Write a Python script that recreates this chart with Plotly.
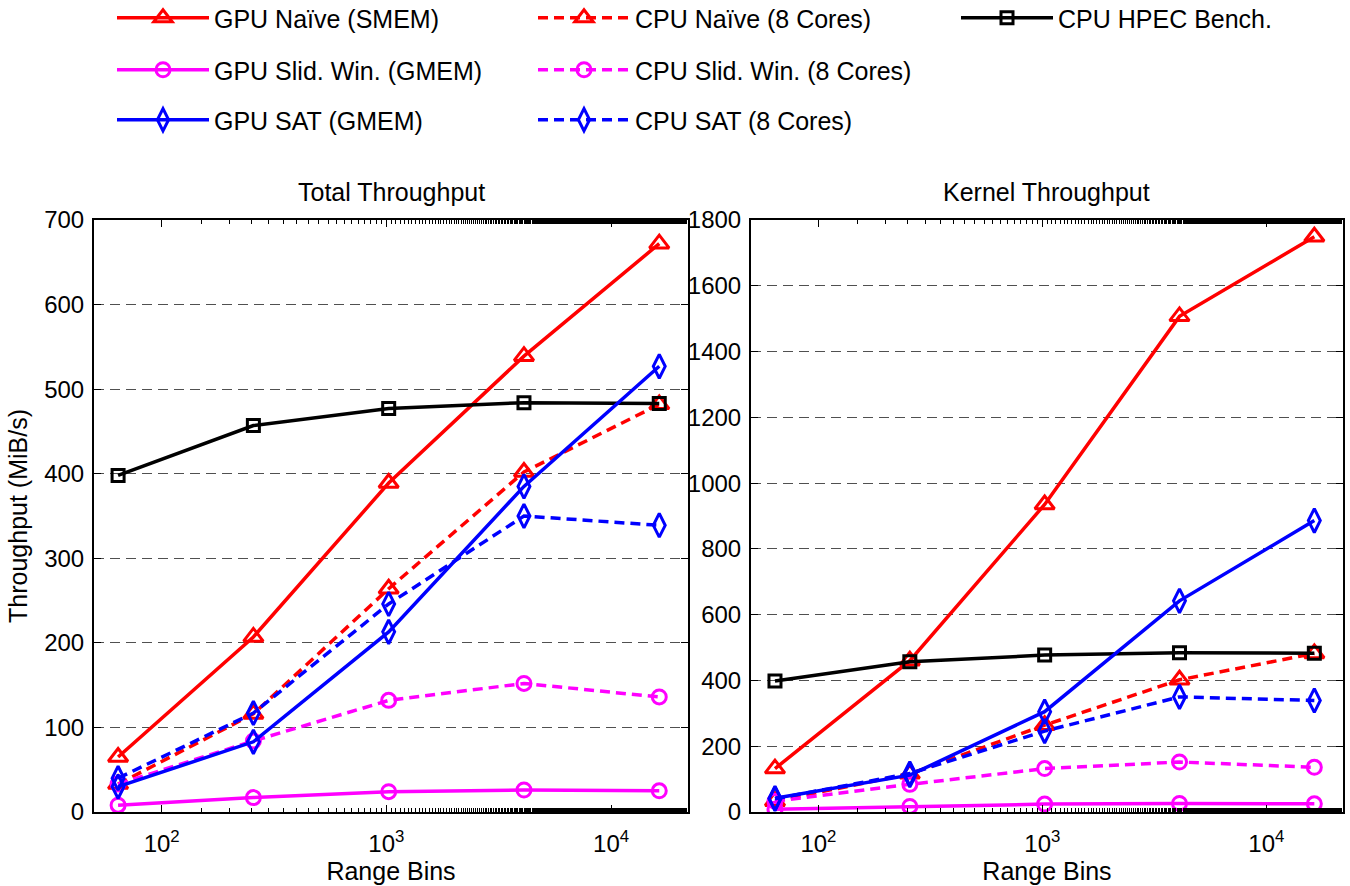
import plotly.graph_objects as go
import math

range_bins = [64, 256, 1024, 4096, 16384]

# Total throughput (MiB/s)
total_gpu_naive = [65, 207, 389, 539, 672]
total_gpu_slid = [8, 17, 24, 26, 25]
total_gpu_sat = [30, 83, 213, 385, 527]

# Kernel throughput (MiB/s)
kernel_gpu_naive = [132, 460, 935, 1507, 1749]
kernel_gpu_slid = [8, 17, 24, 26, 25]
kernel_gpu_sat = [42, 112, 305, 642, 886]

# CPU (same in both panels)
cpu_naive = [33, 116, 264, 402, 482]
cpu_slid = [33, 84, 132, 152, 136]
cpu_sat = [40, 117, 246, 350, 339]
cpu_hpec = [398, 457, 477, 484, 483]

x_tick_vals = [100, 1000, 10000]
x_tick_text = ["10<sup>2</sup>", "10<sup>3</sup>", "10<sup>4</sup>"]

FONT = "Liberation Sans, Arial, Helvetica, sans-serif"
FS = 25
FT = 24
RED, MAG, BLUE, BLACK = "#ff0000", "#ff00ff", "#0000ff", "#000000"
DASH = "10px,6px"

series = [
    # name, total values, kernel values, color, dash, symbol, size, legend
    ("GPU Naïve (SMEM)", total_gpu_naive, kernel_gpu_naive, RED, "solid", "triangle-up-open", 17, "legend"),
    ("CPU Naïve (8 Cores)", cpu_naive, cpu_naive, RED, DASH, "triangle-up-open", 17, "legend"),
    ("CPU HPEC Bench.", cpu_hpec, cpu_hpec, BLACK, "solid", "square-open", 12, "legend4"),
    ("GPU Slid. Win. (GMEM)", total_gpu_slid, kernel_gpu_slid, MAG, "solid", "circle-open", 14, "legend2"),
    ("CPU Slid. Win. (8 Cores)", cpu_slid, cpu_slid, MAG, DASH, "circle-open", 14, "legend2"),
    ("GPU SAT (GMEM)", total_gpu_sat, kernel_gpu_sat, BLUE, "solid", "diamond-tall-open", 17, "legend3"),
    ("CPU SAT (8 Cores)", cpu_sat, cpu_sat, BLUE, DASH, "diamond-tall-open", 17, "legend3"),
]

fig = go.Figure()
for name, tv, kv, color, dash, sym, size, lg in series:
    common = dict(
        mode="lines+markers",
        line=dict(color=color, width=3.5, dash=dash),
        marker=dict(symbol=sym, size=size, color=color, line=dict(color=color, width=3)),
    )
    fig.add_trace(go.Scatter(x=range_bins, y=tv, name=name, legend=lg, xaxis="x", yaxis="y", **common))
    fig.add_trace(go.Scatter(x=range_bins, y=kv, name=name, showlegend=False, xaxis="x2", yaxis="y2", **common))

xrng = [math.log10(50), math.log10(22000)]

def xax(domain, anchor):
    return dict(
        type="log", range=xrng, domain=domain, anchor=anchor,
        tickvals=x_tick_vals, ticktext=x_tick_text,
        ticks="inside", ticklen=7, tickwidth=1.2, tickcolor="black",
        minor=dict(ticks="inside", ticklen=4, tickwidth=1, tickcolor="black", showgrid=False),
        showline=True, linecolor="black", linewidth=2, mirror="allticks",
        showgrid=False, zeroline=False, ticklabelstandoff=9,
        tickfont=dict(family=FONT, size=FT, color="black"),
        title=dict(text="Range Bins", font=dict(family=FONT, size=FS, color="black"), standoff=6),
    )

def yax(domain_anchor, rmax, dt, title=None):
    d = dict(
        range=[0, rmax], dtick=dt, anchor=domain_anchor,
        ticks="inside", ticklen=7, tickwidth=1.2, tickcolor="black",
        showline=True, linecolor="black", linewidth=2, mirror="allticks",
        showgrid=True, gridcolor="#505050", griddash="10px,6px", gridwidth=1,
        zeroline=False, ticklabelstandoff=3,
        tickfont=dict(family=FONT, size=FT, color="black"),
    )
    if title:
        d["title"] = dict(text=title, font=dict(family=FONT, size=FS, color="black"), standoff=9)
    return d

leg_common = dict(
    orientation="h", xanchor="left", yanchor="middle",
    xref="container", yref="container",
    font=dict(family=FONT, size=FS, color="black"),
    entrywidth=314, entrywidthmode="pixels", itemwidth=92,
    bgcolor="rgba(0,0,0,0)", tracegroupgap=0,
)

fig.update_layout(
    width=1350, height=886,
    margin=dict(l=94, r=5, t=220, b=74),
    paper_bgcolor="white", plot_bgcolor="white",
    font=dict(family=FONT, size=FS, color="black"),
    xaxis=xax([0, 0.4756], "y"),
    yaxis=yax("x", 700, 100, "Throughput (MiB/s)"),
    xaxis2=xax([0.526, 1.0], "y2"),
    yaxis2=yax("x2", 1800, 200),
    legend=dict(x=112 / 1350, y=1 - 18 / 886, **leg_common),
    legend2=dict(x=112 / 1350, y=1 - 70 / 886, **leg_common),
    legend3=dict(x=112 / 1350, y=1 - 120 / 886, **leg_common),
    legend4=dict(x=956 / 1350, y=1 - 18 / 886, **leg_common),
    annotations=[
        dict(text="Total Throughput", xref="x domain", yref="paper", x=0.5, y=1.0, yshift=28,
             xanchor="center", yanchor="middle", showarrow=False,
             font=dict(family=FONT, size=FS, color="black")),
        dict(text="Kernel Throughput", xref="x2 domain", yref="paper", x=0.5, y=1.0, yshift=28,
             xanchor="center", yanchor="middle", showarrow=False,
             font=dict(family=FONT, size=FS, color="black")),
    ],
)

fig.write_html(
    "out.html",
    config={"displayModeBar": False},
    post_script="document.body.style.margin='0px';document.body.style.padding='0px';",
)
